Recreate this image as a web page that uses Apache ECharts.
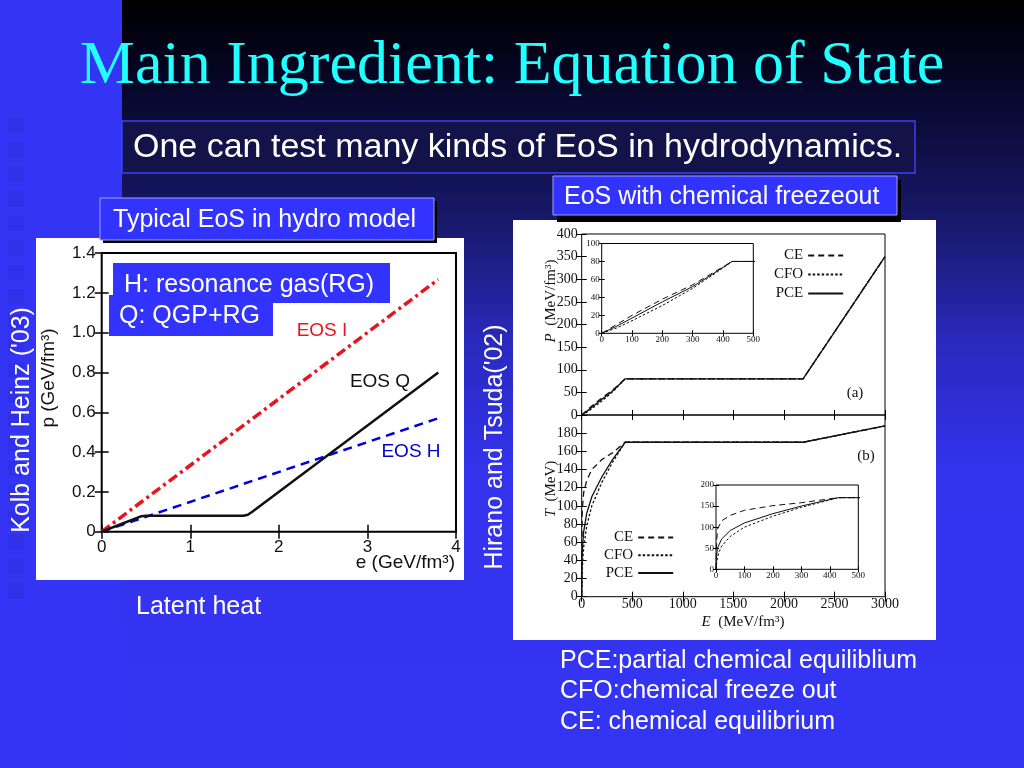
<!DOCTYPE html>
<html><head><meta charset="utf-8">
<script src="https://cdn.jsdelivr.net/npm/echarts@6/dist/echarts.min.js"></script>
<style>html,body{margin:0;padding:0;background:#3434f4;}#c{width:1024px;height:768px;}</style>
</head><body><div id="c"></div>
<script>
// ---------- data: left chart (Kolb & Heinz) ----------
const eosI = [[0,0],[3.8,1.267]];
const eosH = [[0,0],[3.8,0.57]];
const eosQ = [[0,0],[0.2,0.035],[0.45,0.078],[0.5,0.08],[1.6,0.08],[1.65,0.085],[1.7,0.1],[3.8,0.8]];
const pTickLabels = ['0','0.2','0.4','0.6','0.8','1.0','1.2','1.4'];

// ---------- data: right chart (Hirano & Tsuda) ----------
const pressCE  = [[0,0],[50,10],[100,20],[200,38],[300,54],[380,70],[430,80],[2190,80],[3000,350]];
const pressCFO = [[0,0],[50,6],[100,14],[200,31],[300,50],[380,68],[430,80],[2190,80],[3000,350]];
const pressPCE = [[0,0],[50,8],[100,17],[200,35],[300,52],[380,69],[430,80],[2190,80],[3000,350]];
const tempCE  = [[0,0],[2,60],[5,95],[20,115],[50,128],[100,140],[200,151],[300,158],[430,170],[2190,170],[3000,188]];
const tempCFO = [[0,0],[3,20],[10,40],[20,55],[50,78],[100,100],[200,126],[300,147],[430,170],[2190,170],[3000,188]];
const tempPCE = [[0,0],[2,30],[5,50],[20,72],[50,92],[100,110],[200,132],[300,150],[430,170],[2190,170],[3000,188]];

const SANS = 'Liberation Sans, Arial, sans-serif';
const SERIF = 'Liberation Serif, Times New Roman, serif';

function txt(text, x, y, size, color, opts) {
  opts = opts || {};
  const align = opts.align || 'left';
  return {
    type: 'text', x: x, y: y, rotation: opts.rotation || 0, z: 60,
    style: {
      text: text, fill: color, fontSize: size, fontFamily: opts.family || SANS,
      fontWeight: opts.weight || 'normal',
      align: align, textAlign: align, verticalAlign: 'middle', textVerticalAlign: 'middle',
      rich: opts.rich
    }
  };
}
function rect(x, y, w, h, fill, z, stroke, lw) {
  return { type: 'rect', z: z, shape: {x: x, y: y, width: w, height: h},
    style: {fill: fill, stroke: stroke || null, lineWidth: lw || 0} };
}

const squares = [];
for (let i = 0; i < 20; i++) {
  squares.push(rect(8, 118 + i * 24.5, 16, 15, 'rgba(10,10,90,0.09)', -98));
}

const graphicEls = [
  rect(0, 0, 1024, 768, '#3434f4', -100),
  { type: 'rect', z: -99, shape: {x: 122, y: 0, width: 902, height: 768},
    style: { fill: new echarts.graphic.LinearGradient(0, 0, 0, 1, [
      {offset: 0, color: '#000000'},
      {offset: 0.07, color: '#03031a'},
      {offset: 0.2, color: '#10104a'},
      {offset: 0.3, color: '#1a1a70'},
      {offset: 0.45, color: '#2a2ac0'},
      {offset: 0.62, color: '#3333ee'},
      {offset: 1, color: '#3434f4'}
    ]) } },
  ...squares,
  rect(122, 121, 793, 52, '#13134a', -97, '#3f3ff0', 1.5),
  rect(36, 238, 428, 342, '#ffffff', -96),
  rect(513, 220, 423, 420, '#ffffff', -96),
  // box shadows + boxes
  rect(103, 201, 334, 42, '#000000', 40),
  rect(100, 198, 334, 42, '#3333ff', 41, '#a0a0ff', 1),
  rect(557, 180, 344, 42, '#000000', 40),
  rect(553, 176, 344, 39, '#3333ff', 41, '#a0a0ff', 1),
  rect(113, 263, 277, 40, '#3333ff', 42),
  rect(109, 295, 164, 41, '#3333ff', 42),
  // texts
  txt('Main Ingredient: Equation of State', 512, 67, 62, '#22ffff', {align: 'center', family: SERIF}),
  txt('One can test many kinds of EoS in hydrodynamics.', 133, 148, 34, '#ffffff'),
  txt('Typical EoS in hydro model', 113, 220, 25, '#ffffff'),
  txt('EoS with chemical freezeout', 564, 197, 25, '#ffffff'),
  txt('H: resonance gas(RG)', 124, 285, 25, '#ffffff'),
  txt('Q: QGP+RG', 119, 316, 25, '#ffffff'),
  txt('EOS I', 322, 331, 19, '#e8141e', {align: 'center'}),
  txt('EOS Q', 380, 382, 19, '#111111', {align: 'center'}),
  txt('EOS H', 411, 452, 19, '#0000cc', {align: 'center'}),
  txt('p (GeV/fm³)', 49, 378, 19, '#111111', {align: 'center', rotation: Math.PI / 2}),
  txt('e (GeV/fm³)', 455, 563, 19, '#111111', {align: 'right'}),
  txt("Kolb and Heinz ('03)", 22, 420, 25, '#ffffff', {align: 'center', rotation: Math.PI / 2}),
  txt("Hirano and Tsuda('02)", 495, 447, 25, '#ffffff', {align: 'center', rotation: Math.PI / 2}),
  txt('Latent heat', 136, 607, 25, '#ffffff'),
  txt('PCE:partial chemical equiliblium', 560, 661, 25, '#ffffff'),
  txt('CFO:chemical freeze out', 560, 691, 25, '#ffffff'),
  txt('CE: chemical equilibrium', 560, 722, 25, '#ffffff'),
  txt('{i|P}  (MeV/fm³)', 551, 301, 15, '#111111', {align: 'center', rotation: Math.PI / 2, family: SERIF,
     rich: {i: {fontStyle: 'italic', fontFamily: SERIF, fontSize: 15, fill: '#111'}}}),
  txt('{i|T}  (MeV)', 551, 489, 15, '#111111', {align: 'center', rotation: Math.PI / 2, family: SERIF,
     rich: {i: {fontStyle: 'italic', fontFamily: SERIF, fontSize: 15, fill: '#111'}}}),
  txt('{i|E}  (MeV/fm³)', 743, 622, 15, '#111111', {align: 'center', family: SERIF,
     rich: {i: {fontStyle: 'italic', fontFamily: SERIF, fontSize: 15, fill: '#111'}}}),
  txt('(a)', 855, 393, 15, '#111111', {align: 'center', family: SERIF}),
  txt('(b)', 866, 456, 15, '#111111', {align: 'center', family: SERIF})
];

// ---------- axes ----------
function xAx(grid, pos, min, max, interval, labelOpt, tickLen, tickW) {
  return {
    type: 'value', gridIndex: grid, position: pos, min: min, max: max, interval: interval,
    axisLine: {show: false}, splitLine: {show: false},
    axisTick: {show: true, inside: true, length: tickLen, lineStyle: {color: '#000', width: tickW}},
    axisLabel: labelOpt ? Object.assign({show: true, color: '#111', formatter: v => String(v)}, labelOpt) : {show: false}
  };
}
const yAx = xAx;

const leftLbl = {fontFamily: SANS, fontSize: 17, margin: 6};
const serifLbl = {fontFamily: SERIF, fontSize: 14, margin: 4};
const insetLbl = {fontFamily: SERIF, fontSize: 9, margin: 2};

const xAxis = [
  xAx(0, 'bottom', 0, 4, 1, Object.assign({}, leftLbl, {margin: 7}), 7, 1.5),
  xAx(0, 'top', 0, 4, 1, null, 7, 1.5),
  xAx(1, 'bottom', 0, 3000, 500, null, 5, 1),
  xAx(1, 'top', 0, 3000, 500, null, 5, 1),
  xAx(2, 'bottom', 0, 3000, 500, Object.assign({}, serifLbl, {margin: 1}), 5, 1),
  xAx(2, 'top', 0, 3000, 500, null, 5, 1),
  xAx(3, 'bottom', 0, 500, 100, insetLbl, 3, 1),
  xAx(3, 'top', 0, 500, 100, null, 3, 1),
  xAx(4, 'bottom', 0, 500, 100, insetLbl, 3, 1),
  xAx(4, 'top', 0, 500, 100, null, 3, 1)
];
const yAxis = [
  yAx(0, 'left', 0, 1.4, 0.2, Object.assign({}, leftLbl, {formatter: (v, i) => pTickLabels[i]}), 7, 1.5),
  yAx(0, 'right', 0, 1.4, 0.2, null, 7, 1.5),
  yAx(1, 'left', 0, 400, 50, serifLbl, 5, 1),
  yAx(1, 'right', 0, 400, 50, null, 5, 1),
  yAx(2, 'left', 0, 200, 20, Object.assign({}, serifLbl, {showMaxLabel: false}), 5, 1),
  yAx(2, 'right', 0, 200, 20, null, 5, 1),
  yAx(3, 'left', 0, 100, 20, insetLbl, 3, 1),
  yAx(3, 'right', 0, 100, 20, null, 3, 1),
  yAx(4, 'left', 0, 200, 50, insetLbl, 3, 1),
  yAx(4, 'right', 0, 200, 50, null, 3, 1)
];

const grid = [
  {left: 101.7, top: 253, width: 354.3, height: 278.7, show: true, borderColor: '#000', borderWidth: 2, backgroundColor: 'transparent'},
  {left: 581.7, top: 234, width: 303.3, height: 181, show: true, borderColor: '#000', borderWidth: 1, backgroundColor: 'transparent'},
  {left: 581.7, top: 415, width: 303.3, height: 181.7, show: true, borderColor: '#000', borderWidth: 1, backgroundColor: 'transparent'},
  {left: 601.7, top: 243.5, width: 151.6, height: 89.8, show: true, borderColor: '#000', borderWidth: 1, backgroundColor: '#fff'},
  {left: 716, top: 485, width: 142.3, height: 84.3, show: true, borderColor: '#000', borderWidth: 1, backgroundColor: '#fff'}
];

function ln(name, data, xi, color, width, type) {
  return {type: 'line', name: name, data: data, xAxisIndex: xi, yAxisIndex: xi,
    showSymbol: false, symbol: 'none', silent: true, clip: true,
    itemStyle: {color: color},
    lineStyle: {color: color, width: width, type: type}, z: 3};
}
const ceType = [6, 4], cfoType = [2.5, 2];
const series = [
  ln('EOS H', eosH, 0, '#0000dd', 2.5, [9, 6]),
  ln('EOS I', eosI, 0, '#e8141e', 3.5, [10, 4, 3, 4]),
  ln('EOS Q', eosQ, 0, '#111111', 2.5, 'solid')
];
[[2, pressCE, pressCFO, pressPCE], [4, tempCE, tempCFO, tempPCE], [6, pressCE, pressCFO, pressPCE], [8, tempCE, tempCFO, tempPCE]].forEach(function (g) {
  const w = g[0] >= 6 ? 1 : 1.3;
  series.push(ln('CE', g[1], g[0], '#111', w, ceType));
  series.push(ln('CFO', g[2], g[0], '#111', w, cfoType));
  series.push(ln('PCE', g[3], g[0], '#111', w, 'solid'));
});

const legendCommon = {
  orient: 'vertical', align: 'right', selectedMode: false, padding: 0,
  itemWidth: 35, itemHeight: 14, itemGap: 4,
  data: ['CE', 'CFO', 'PCE'],
  itemStyle: {opacity: 0, color: 'transparent', borderWidth: 0},
  textStyle: {fontFamily: SERIF, fontSize: 15, color: '#111', width: 30}
};
const legend = [
  Object.assign({}, legendCommon, {left: 774, top: 248}),
  Object.assign({}, legendCommon, {left: 604, top: 530, itemGap: 2.7, textStyle: {fontFamily: SERIF, fontSize: 15, color: '#111', width: 29}})
];

const chart = echarts.init(document.getElementById('c'), null, {renderer: 'canvas'});
chart.setOption({
  animation: false,
  backgroundColor: '#3434f4',
  grid: grid, xAxis: xAxis, yAxis: yAxis, series: series, legend: legend,
  graphic: {elements: graphicEls}
});
</script>
</body></html>
